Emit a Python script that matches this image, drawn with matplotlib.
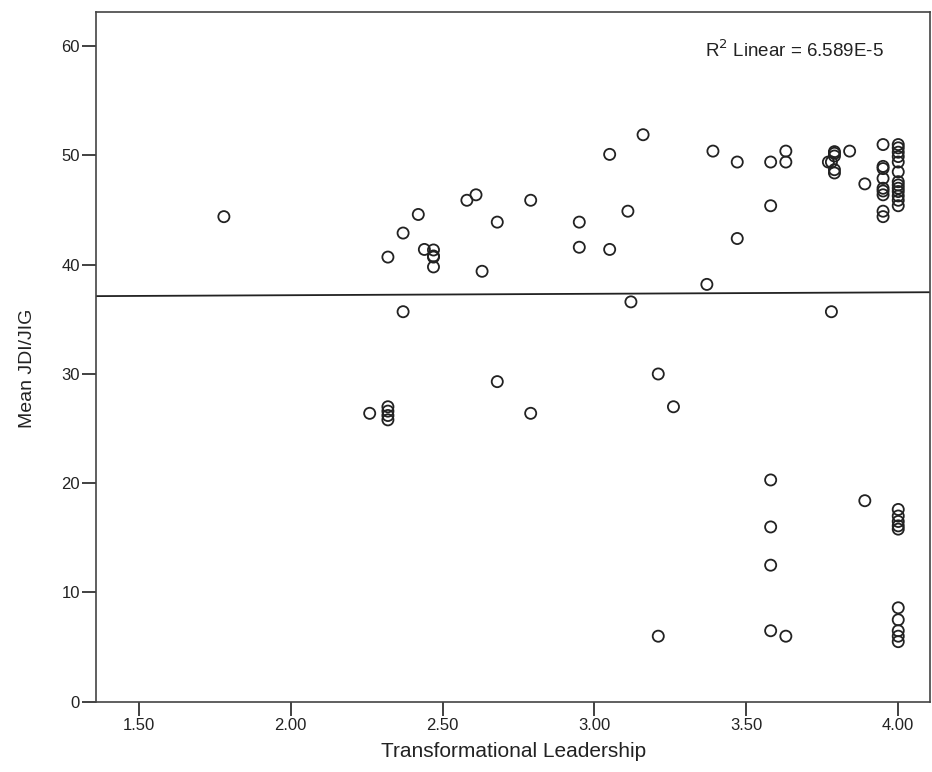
import matplotlib
matplotlib.use('Agg')
import matplotlib.pyplot as plt
import numpy as np

plt.rcParams['font.family'] = ['Liberation Sans', 'DejaVu Sans']

# Transformational Leadership vs Mean JDI/JIG
leadership = [1.78, 2.32, 2.37, 2.37, 2.42, 2.44, 2.47, 2.47, 2.47, 2.47,
              2.58, 2.61, 2.63, 2.68, 2.68, 2.79, 2.79,
              2.26, 2.32, 2.32, 2.32, 2.32,
              2.95, 2.95, 3.05, 3.05, 3.11, 3.12, 3.16, 3.21, 3.21, 3.26,
              3.37, 3.39, 3.47, 3.47, 3.58, 3.58,
              3.58, 3.58, 3.58, 3.58, 3.63, 3.63, 3.63,
              3.79, 3.79, 3.79, 3.78, 3.79, 3.79, 3.77, 3.84, 3.78, 3.89, 3.89,
              3.95, 3.95, 3.95, 3.95, 3.95, 3.95, 3.95, 3.95, 3.95,
              4.00, 4.00, 4.00, 4.00, 4.00, 4.00, 4.00, 4.00, 4.00, 4.00, 4.00, 4.00, 4.00,
              4.00, 4.00, 4.00, 4.00, 4.00,
              4.00, 4.00, 4.00, 4.00, 4.00]
jdi_jig = [44.4, 40.7, 42.9, 35.7, 44.6, 41.4, 41.35, 40.8, 40.7, 39.8,
           45.9, 46.4, 39.4, 43.9, 29.3, 45.9, 26.4,
           26.4, 27.0, 26.6, 26.2, 25.8,
           43.9, 41.6, 50.1, 41.4, 44.9, 36.6, 51.9, 30.0, 6.0, 27.0,
           38.2, 50.4, 49.4, 42.4, 49.4, 45.4,
           20.3, 16.0, 12.5, 6.5, 50.4, 49.4, 6.0,
           50.35, 50.2, 49.95, 49.4, 48.7, 48.4, 49.4, 50.4, 35.7, 47.4, 18.4,
           51.0, 49.0, 48.8, 47.9, 47.0, 46.75, 46.4, 44.9, 44.4,
           51.0, 50.7, 50.3, 49.9, 49.4, 48.5, 47.6, 47.3, 47.0, 46.7, 46.3, 45.9, 45.4,
           17.6, 17.0, 16.5, 16.1, 15.8,
           8.6, 7.5, 6.5, 6.0, 5.5]

# fit line as drawn in the chart
fit_intercept = 36.95
fit_slope = 0.13
r2_text = 'R$^2$ Linear = 6.589E-5'

x_ticks = [1.5, 2.0, 2.5, 3.0, 3.5, 4.0]
y_ticks = [0, 10, 20, 30, 40, 50, 60]

fig = plt.figure(figsize=(9.32, 7.72), dpi=100)
ax = fig.add_axes([0.103, 0.091, 0.895, 0.893])

ax.scatter(leadership, jdi_jig, s=64, facecolors='none', edgecolors='#222222',
           linewidths=1.3, zorder=3)

xlim = (1.359, 4.105)
line_x = np.array(xlim)
ax.plot(line_x, fit_intercept + fit_slope * line_x, color='#222222', lw=1.3, zorder=2)

ax.set_xlim(*xlim)
ax.set_ylim(0, 63.1)
ax.set_xticks(x_ticks)
ax.set_xticklabels([f'{t:.2f}' for t in x_ticks])
ax.set_yticks(y_ticks)

ax.tick_params(axis='both', direction='out', length=10, width=1.3, color='#333333',
               labelsize=12, labelcolor='#222222', pad=1.5)
for sp in ax.spines.values():
    sp.set_color('#444444')
    sp.set_linewidth(1.2)

ax.set_xlabel('Transformational Leadership', fontsize=15, color='#222222')
ax.xaxis.set_label_coords(0.5, -0.058)
ax.set_ylabel('Mean JDI/JIG', fontsize=14, color='#222222')
ax.yaxis.set_label_coords(-0.072, 0.483)

ax.text(0.73, 0.945, r2_text, transform=ax.transAxes, fontsize=13.5,
        color='#222222', va='center', ha='left')

fig.savefig('out.png', dpi=100)
